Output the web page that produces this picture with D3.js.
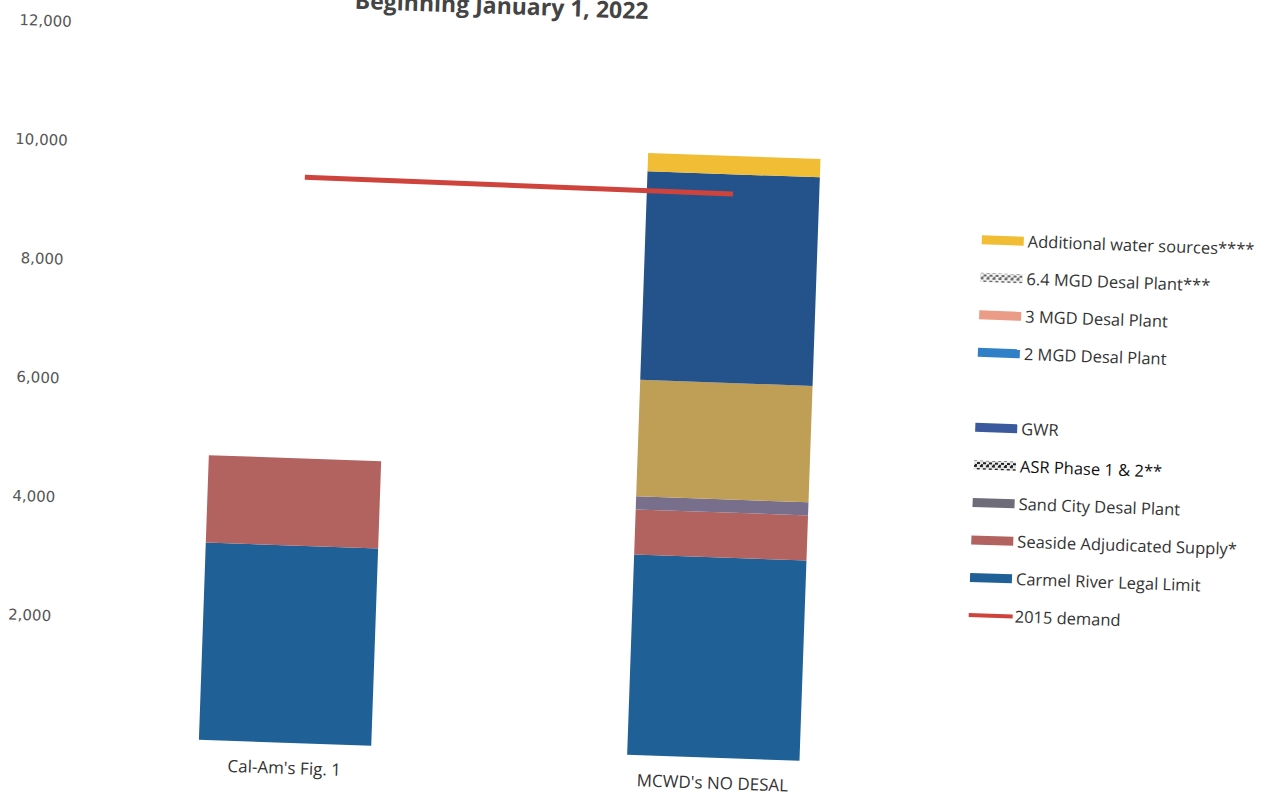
<!DOCTYPE html>
<html>
<head>
<meta charset="utf-8">
<script src="https://cdn.jsdelivr.net/npm/d3@7"></script>
<style>
  html, body { margin: 0; padding: 0; background: #ffffff; }
  svg { display: block; }
</style>
</head>
<body>
<svg id="chart" width="1275" height="803"></svg>
<script>
// ---- data ----
const categories = ["Cal-Am's Fig. 1", "MCWD's NO DESAL"];
const carmelRiver = [3320, 3370];
const seasideAdjudicated = [1470, 760];
const sandCityDesal = [0, 220];
const asrPhase12 = [0, 1960];
const gwr = [0, 3510];
const desal2MGD = [0, 0];
const desal3MGD = [0, 0];
const desal64MGD = [0, 0];
const additionalSources = [0, 310];
const demand2015 = [9520, 9490];
const yTicks = [2000, 4000, 6000, 8000, 10000, 12000];
const titleText = "Beginning January 1, 2022";

// stack order, bottom to top
const seriesKeys = ["carmel", "seaside", "sandCity", "asr", "gwr", "d2", "d3", "d64", "additional"];
const seriesNames = {
  carmel: "Carmel River Legal Limit",
  seaside: "Seaside Adjudicated Supply*",
  sandCity: "Sand City Desal Plant",
  asr: "ASR Phase 1  & 2**",
  gwr: "GWR",
  d2: "2 MGD Desal Plant",
  d3: "3 MGD Desal Plant",
  d64: "6.4 MGD Desal Plant***",
  additional: "Additional water sources****"
};
const seriesValues = {
  carmel: carmelRiver, seaside: seasideAdjudicated, sandCity: sandCityDesal,
  asr: asrPhase12, gwr: gwr, d2: desal2MGD, d3: desal3MGD, d64: desal64MGD,
  additional: additionalSources
};
const demandName = "2015 demand";

// ---- styles ----
const fills = {
  carmel: "#1f6096", seaside: "#b2625f", sandCity: "#786f8c", asr: "#bf9e55",
  gwr: "#24538c", d2: "#2f80c6", d3: "#ea9c86", d64: "url(#pat64)",
  additional: "#f0bd34"
};
const legendFills = Object.assign({}, fills, { asr: "url(#patAsr)", gwr: "#3b5a9e", sandCity: "#6e6c78" });
const demandColor = "#cf433d";

const svg = d3.select("#chart");
const defs = svg.append("defs");

// textured swatches for the two patterned legend keys
function checkerPattern(id, dark, light) {
  const p = defs.append("pattern").attr("id", id)
    .attr("patternUnits", "userSpaceOnUse").attr("width", 6).attr("height", 6);
  p.append("rect").attr("width", 6).attr("height", 6).attr("fill", light);
  p.append("rect").attr("x", 0).attr("y", 0).attr("width", 3).attr("height", 2).attr("fill", dark);
  p.append("rect").attr("x", 3).attr("y", 3).attr("width", 3).attr("height", 2).attr("fill", dark);
  p.append("rect").attr("x", 1).attr("y", 5).attr("width", 2).attr("height", 1).attr("fill", dark);
}
checkerPattern("pat64", "#6a6a6a", "#f2f2f2");
checkerPattern("patAsr", "#222222", "#e8e8e8");

// the whole sheet sits slightly turned
const g = svg.append("g").attr("transform", "rotate(2, 640, 400)");

// ---- scales ----
const x = d3.scaleBand().domain(categories).range([83, 940])
  .paddingInner(0.5976).paddingOuter(0.2988);
const y = d3.scaleLinear().domain([0, 12000]).range([755, 41.6]);

// ---- title (top line runs off the page) ----
g.append("text")
  .attr("x", 488).attr("y", 19)
  .attr("text-anchor", "middle")
  .attr("font-family", "'Open Sans', sans-serif")
  .attr("font-weight", 700)
  .attr("font-size", 23)
  .attr("fill", "#444")
  .text(titleText);

// ---- y axis labels (no axis line, no gridlines) ----
const yAxis = d3.axisLeft(y).tickValues(yTicks).tickFormat(d3.format(",")).tickSize(0).tickPadding(0);
const yAxisG = g.append("g").attr("transform", "translate(59,0)").call(yAxis);
yAxisG.select(".domain").remove();
yAxisG.selectAll("text")
  .attr("font-family", "'DejaVu Sans', sans-serif")
  .attr("font-size", 15)
  .attr("fill", "#555");

// ---- stacked bars ----
const rows = categories.map((c, i) => {
  const r = { category: c };
  seriesKeys.forEach(k => { r[k] = seriesValues[k][i]; });
  return r;
});
const stacked = d3.stack().keys(seriesKeys)(rows);

g.append("g").selectAll("g").data(stacked).join("g")
  .attr("fill", d => fills[d.key])
  .selectAll("rect").data(d => d).join("rect")
  .attr("x", d => x(d.data.category))
  .attr("width", x.bandwidth())
  .attr("y", d => y(d[1]))
  .attr("height", d => Math.max(0, y(d[0]) - y(d[1])));

// ---- category labels ----
const xAxis = d3.axisBottom(x).tickSize(0).tickPadding(0);
const xAxisG = g.append("g").attr("transform", "translate(0,774)").call(xAxis);
xAxisG.select(".domain").remove();
xAxisG.selectAll("text")
  .attr("font-family", "'Open Sans', sans-serif")
  .attr("font-size", 17)
  .attr("fill", "#333");

// ---- 2015 demand line ----
const line = d3.line()
  .x((d, i) => x(categories[i]) + x.bandwidth() / 2)
  .y(d => y(d));
g.append("path").datum(demand2015)
  .attr("d", line)
  .attr("fill", "none")
  .attr("stroke", demandColor)
  .attr("stroke-width", 5);

// ---- legend ----
const legendItems = [
  { key: "additional" }, { key: "d64" }, { key: "d3" }, { key: "d2" },
  null,
  { key: "gwr" }, { key: "asr" }, { key: "sandCity" }, { key: "seaside" }, { key: "carmel" },
  { key: "demand" }
];
const legend = g.append("g").attr("transform", "translate(976,228)");
legendItems.forEach((item, i) => {
  if (!item) return;
  const row = legend.append("g").attr("transform", `translate(0,${i * 37.53})`);
  if (item.key === "demand") {
    row.append("line").attr("x1", 0).attr("x2", 44).attr("y1", 0).attr("y2", 0)
      .attr("stroke", demandColor).attr("stroke-width", 4);
  } else {
    row.append("rect").attr("x", 0).attr("y", -4.5).attr("width", 42).attr("height", 9)
      .attr("fill", legendFills[item.key]);
  }
  row.append("text")
    .attr("x", 46).attr("y", 0).attr("dy", "0.36em")
    .attr("font-family", "'Open Sans', sans-serif")
    .attr("font-size", 16.5)
    .attr("fill", item.key === "asr" ? "#111" : "#333")
    .text(item.key === "demand" ? demandName : seriesNames[item.key]);
});
</script>
</body>
</html>
